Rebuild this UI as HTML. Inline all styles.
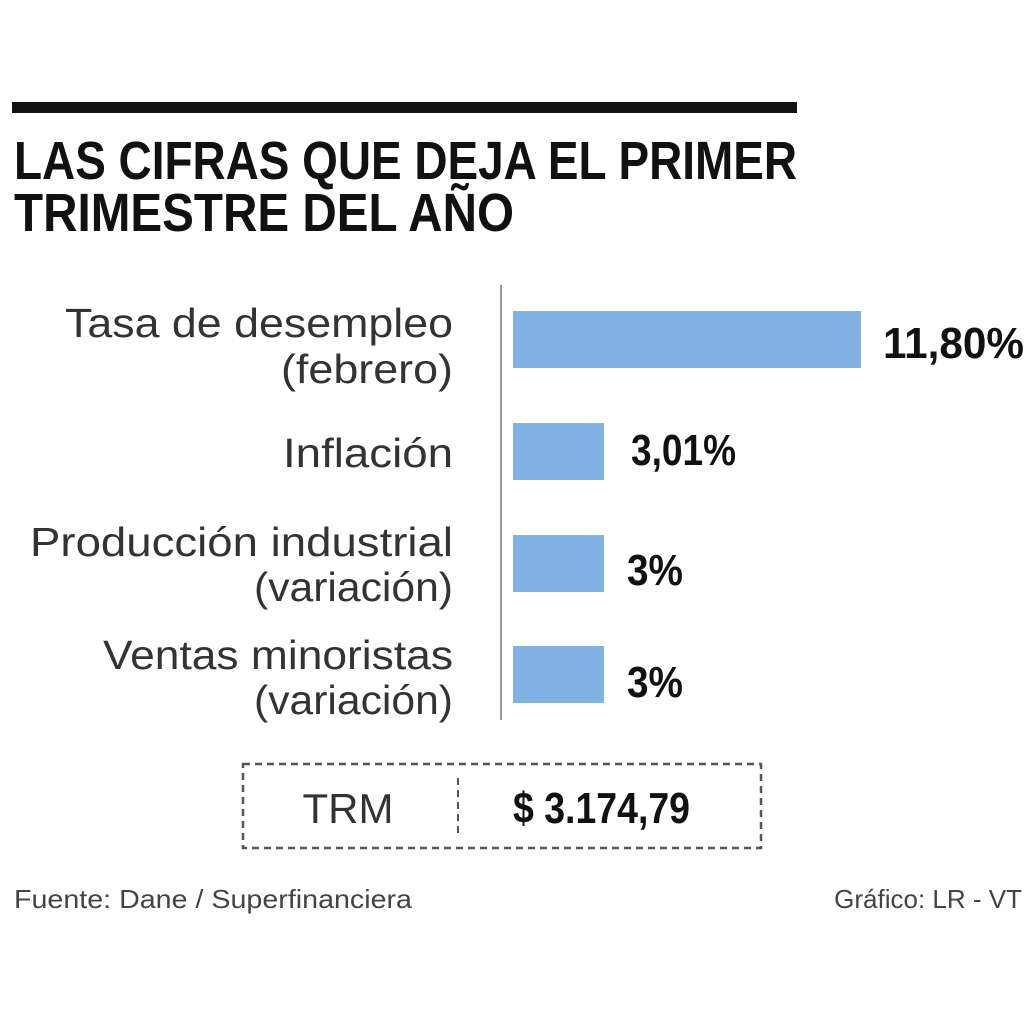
<!DOCTYPE html>
<html><head><meta charset="utf-8"><style>
html,body{margin:0;padding:0;background:#fff;}
svg{display:block;}
</style></head><body>
<svg width="1024" height="1024" viewBox="0 0 1024 1024" xmlns="http://www.w3.org/2000/svg" font-family="'Liberation Sans Narrow','Liberation Sans',sans-serif">
<rect width="1024" height="1024" fill="#fff"/>
<rect x="12" y="102" width="785" height="11" fill="#111"/>
<text x="14" y="179" font-size="54" font-weight="bold" fill="#111" textLength="783" lengthAdjust="spacingAndGlyphs">LAS CIFRAS QUE DEJA EL PRIMER</text>
<text x="14" y="231" font-size="54" font-weight="bold" fill="#111" textLength="500" lengthAdjust="spacingAndGlyphs">TRIMESTRE DEL AÑO</text>
<line x1="501" y1="285" x2="501" y2="720" stroke="#999" stroke-width="2"/>
<g fill="#82b1e3">
<rect x="513" y="311" width="348" height="57"/>
<rect x="513" y="423" width="91" height="57"/>
<rect x="513" y="535" width="91" height="57"/>
<rect x="513" y="646" width="91" height="57"/>
</g>
<g font-size="41" fill="#333" font-family="'Liberation Sans',sans-serif">
<text x="65" y="337" textLength="388" lengthAdjust="spacingAndGlyphs">Tasa de desempleo</text>
<text x="281" y="383" textLength="172" lengthAdjust="spacingAndGlyphs">(febrero)</text>
<text x="283" y="467" textLength="170" lengthAdjust="spacingAndGlyphs">Inflación</text>
<text x="30" y="556" textLength="423" lengthAdjust="spacingAndGlyphs">Producción industrial</text>
<text x="254" y="601" textLength="199" lengthAdjust="spacingAndGlyphs">(variación)</text>
<text x="103" y="669" textLength="350" lengthAdjust="spacingAndGlyphs">Ventas minoristas</text>
<text x="254" y="714" textLength="199" lengthAdjust="spacingAndGlyphs">(variación)</text>
</g>
<g font-size="44" font-weight="bold" fill="#111">
<text x="883" y="358" textLength="141" lengthAdjust="spacingAndGlyphs">11,80%</text>
<text x="631" y="465" textLength="105" lengthAdjust="spacingAndGlyphs">3,01%</text>
<text x="627" y="585" textLength="56" lengthAdjust="spacingAndGlyphs">3%</text>
<text x="627" y="697" textLength="56" lengthAdjust="spacingAndGlyphs">3%</text>
</g>
<rect x="243" y="764" width="518" height="84" fill="none" stroke="#555" stroke-width="2.5" stroke-dasharray="7,5"/>
<line x1="458" y1="778" x2="458" y2="836" stroke="#555" stroke-width="2" stroke-dasharray="7,5"/>
<text x="348" y="823" font-size="42" fill="#333" text-anchor="middle">TRM</text>
<text x="513" y="823" font-size="44" font-weight="bold" fill="#111" textLength="177" lengthAdjust="spacingAndGlyphs">$ 3.174,79</text>
<text x="14" y="908" font-size="26" fill="#444" textLength="398" lengthAdjust="spacingAndGlyphs">Fuente: Dane / Superfinanciera</text>
<text x="1022" y="908" font-size="26" fill="#444" text-anchor="end">Gráfico: LR - VT</text>
</svg>
</body></html>
